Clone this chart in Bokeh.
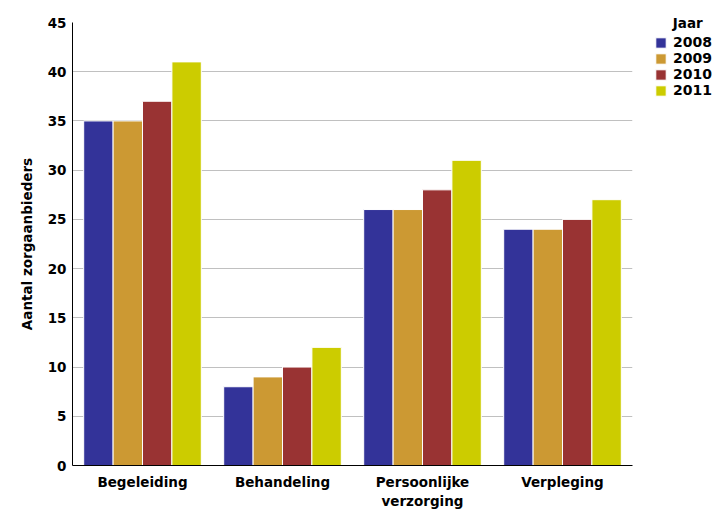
from bokeh.plotting import figure
from bokeh.models import FactorRange, FixedTicker, Legend, LegendItem, ColumnDataSource
from bokeh.transform import dodge
from bokeh.embed import file_html
from bokeh.resources import INLINE

categories = ["Begeleiding", "Behandeling", "Persoonlijke\nverzorging", "Verpleging"]
years = ["2008", "2009", "2010", "2011"]
v2008 = [35, 8, 26, 24]
v2009 = [35, 9, 26, 24]
v2010 = [37, 10, 28, 25]
v2011 = [41, 12, 31, 27]
colors = ["#333399", "#CC9933", "#993333", "#CCCC00"]
y_ticks = [0, 5, 10, 15, 20, 25, 30, 35, 40, 45]

src = ColumnDataSource(dict(cat=categories, y2008=v2008, y2009=v2009, y2010=v2010, y2011=v2011))

FONT = "DejaVu Sans"
p = figure(x_range=FactorRange(*categories), y_range=(0, 45),
           frame_width=560, frame_height=443,
           min_border_left=72, min_border_top=22, min_border_bottom=37, min_border_right=5,
           output_backend="svg", toolbar_location=None)

bw = 0.21
offsets = [-1.5 * bw, -0.5 * bw, 0.5 * bw, 1.5 * bw]
items = []
for yr, col, off in zip(years, colors, offsets):
    r = p.vbar(x=dodge("cat", off, range=p.x_range), top="y" + yr, width=bw, source=src,
               fill_color=col, line_color="white", line_width=1)
    items.append(LegendItem(label=yr, renderers=[r]))

legend = Legend(items=items, title="\u00a0\u00a0\u00a0\u00a0Jaar", location=(22, 367),
                padding=0, margin=0, spacing=0, glyph_width=13, glyph_height=13,
                label_height=13, label_standoff=6,
                label_text_font=FONT, label_text_font_style="bold", label_text_font_size="14px",
                label_text_color="black",
                title_text_font=FONT, title_text_font_style="bold", title_text_font_size="13.5px",
                title_text_color="black",
                title_standoff=3, border_line_color=None, background_fill_alpha=0)
p.add_layout(legend, "right")

p.outline_line_color = None
p.xgrid.grid_line_color = None
p.ygrid.grid_line_color = "#c0c0c0"
p.yaxis.ticker = FixedTicker(ticks=y_ticks)
p.yaxis.axis_label = "Aantal zorgaanbieders"
for ax in (p.xaxis[0], p.yaxis[0]):
    ax.axis_line_color = "black"
    ax.major_tick_line_color = None
    ax.minor_tick_line_color = None
    ax.major_tick_out = 0
    ax.major_tick_in = 0
    ax.major_label_text_font = FONT
    ax.major_label_text_font_style = "bold"
    ax.major_label_text_font_size = "13.5px"
    ax.major_label_text_color = "black"
    ax.axis_label_text_font = FONT
    ax.axis_label_text_font_style = "bold"
    ax.axis_label_text_font_size = "13.5px"
    ax.axis_label_text_color = "black"
p.yaxis.major_label_standoff = 6
p.yaxis.axis_label_standoff = 10
p.xaxis.major_label_standoff = 8

open("out.html", "w").write(file_html(p, INLINE))
